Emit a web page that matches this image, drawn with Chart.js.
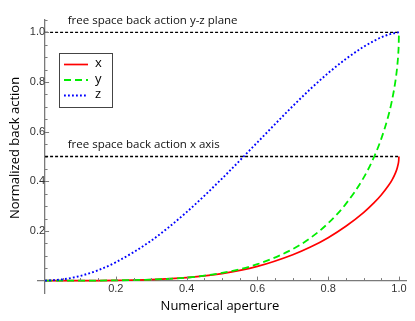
<!DOCTYPE html>
<html>
<head>
<meta charset="utf-8">
<script src="https://cdn.jsdelivr.net/npm/chart.js@4.4.1/dist/chart.umd.min.js"></script>
<style>
  html, body { margin: 0; padding: 0; background: #fff; }
  #wrap { width: 415px; height: 321px; position: relative; }
</style>
</head>
<body>
<div id="wrap"><canvas id="chart"></canvas></div>
<script>
// numerical aperture (x values shared by all three curves)
const aperture = [0, 0.05, 0.1, 0.15, 0.2, 0.3, 0.4, 0.5, 0.6, 0.7, 0.75, 0.8, 0.85, 0.9, 0.93, 0.95, 0.97, 0.98, 0.99, 0.995, 0.998, 0.9995, 1];
const backX = [0, 0, 0, 0.0002, 0.001, 0.004, 0.012, 0.028, 0.057, 0.104, 0.135, 0.173, 0.219, 0.274, 0.314, 0.345, 0.382, 0.404, 0.433, 0.453, 0.470, 0.485, 0.5];
const backY = [0, 0, 0, 0.0002, 0.001, 0.004, 0.012, 0.031, 0.066, 0.127, 0.172, 0.231, 0.309, 0.414, 0.499, 0.571, 0.663, 0.723, 0.803, 0.860, 0.911, 0.956, 1];
const backZ = [0, 0.005, 0.019, 0.042, 0.074, 0.161, 0.276, 0.411, 0.557, 0.703, 0.772, 0.836, 0.893, 0.942, 0.966, 0.980, 0.991, 0.995, 0.998, 0.999, 1, 1, 1];

const seriesNames = ['x', 'y', 'z'];
const refLevels = [1, 0.5];
const refSpan = [0, 1];
const refLabels = ['free space back action y-z plane', 'free space back action x axis'];

const xTicks = [0.2, 0.4, 0.6, 0.8, 1.0];
const yTicks = [0.2, 0.4, 0.6, 0.8, 1.0];
const xTitle = 'Numerical aperture';
const yTitle = 'Normalized back action';

const axisColor = '#7a7a7a';
const labelFont = '"Open Sans", sans-serif';

function pts(vals) {
  return aperture.map((a, i) => ({ x: a, y: vals[i] }));
}

const curveStyles = [
  { color: '#ff0000', dash: [], width: 1.7 },
  { color: '#00ee00', dash: [7, 4], width: 1.8 },
  { color: '#0000ff', dash: [1.8, 2.2], width: 1.9 }
];

const datasets = [backX, backY, backZ].map((vals, i) => ({
  label: seriesNames[i],
  data: pts(vals),
  borderColor: curveStyles[i].color,
  borderDash: curveStyles[i].dash,
  borderWidth: curveStyles[i].width,
  pointRadius: 0,
  fill: false,
  cubicInterpolationMode: 'monotone',
  order: 3 - i
}));

refLevels.forEach(level => {
  datasets.push({
    label: 'ref',
    isRef: true,
    data: refSpan.map(a => ({ x: a, y: level })),
    borderColor: '#000',
    borderDash: [3, 2],
    borderWidth: 1.4,
    pointRadius: 0,
    fill: false,
    order: 5
  });
});

// ticks, titles, annotations and the boxed legend
const overlay = {
  id: 'overlay',
  afterDatasetsDraw(chart) {
    const { ctx, chartArea, scales: { x, y } } = chart;
    const x0 = x.getPixelForValue(0), y0 = y.getPixelForValue(0);
    ctx.save();

    // tick marks, pointing into the plot
    ctx.strokeStyle = axisColor;
    ctx.lineWidth = 1;
    for (let i = 1; i <= 21; i++) {
      const len = i % 4 === 0 ? 4 : 2.5;
      const py = Math.round(y.getPixelForValue(i * 0.05)) + 0.5;
      ctx.beginPath(); ctx.moveTo(x0, py); ctx.lineTo(x0 + len, py); ctx.stroke();
      if (i <= 20) {
        const px = Math.round(x.getPixelForValue(i * 0.05)) + 0.5;
        ctx.beginPath(); ctx.moveTo(px, y0); ctx.lineTo(px, y0 - len); ctx.stroke();
      }
    }

    // annotations above the dashed lines
    ctx.fillStyle = '#111';
    ctx.font = '11.5px ' + labelFont;
    ctx.textAlign = 'left';
    ctx.textBaseline = 'middle';
    refLevels.forEach((level, i) => {
      ctx.fillText(refLabels[i], x.getPixelForValue(0.064), y.getPixelForValue(level) - 11.5);
    });

    // axis titles
    ctx.fillStyle = '#000';
    ctx.font = '13px ' + labelFont;
    ctx.textAlign = 'center';
    ctx.fillText(xTitle, 220, 306);
    ctx.save();
    ctx.translate(15, 148);
    ctx.rotate(-Math.PI / 2);
    ctx.fillText(yTitle, 0, 0);
    ctx.restore();

    // legend box
    const lx = chartArea.left + 21, ly = chartArea.top + 33;
    ctx.fillStyle = '#fff';
    ctx.fillRect(lx, ly, 53, 54);
    ctx.strokeStyle = '#444';
    ctx.lineWidth = 1;
    ctx.strokeRect(lx + 0.5, ly + 0.5, 53, 54);
    ctx.font = '13px ' + labelFont;
    ctx.textAlign = 'left';
    chart.data.datasets.filter(d => !d.isRef).forEach((d, i) => {
      const ry = ly + 11.5 + i * 15.5;
      ctx.strokeStyle = d.borderColor;
      ctx.lineWidth = d.borderWidth;
      ctx.setLineDash(d.borderDash);
      ctx.beginPath(); ctx.moveTo(lx + 5, ry); ctx.lineTo(lx + 29, ry); ctx.stroke();
      ctx.setLineDash([]);
      ctx.fillStyle = '#000';
      ctx.fillText(d.label, lx + 36, ry - 1);
    });
    ctx.restore();
  }
};

const ctx = document.querySelector('#chart').getContext('2d');
new Chart(ctx, {
  type: 'line',
  data: { datasets },
  options: {
    responsive: true,
    maintainAspectRatio: false,
    animation: false,
    layout: { padding: { left: 38, right: 9, top: 20, bottom: 28 } },
    plugins: {
      legend: { display: false },
      tooltip: { enabled: false }
    },
    scales: {
      x: {
        type: 'linear',
        min: -0.02,
        max: 1.02,
        position: { y: 0 },
        afterBuildTicks: s => { s.ticks = xTicks.map(v => ({ value: v })); },
        grid: { drawOnChartArea: false, drawTicks: false },
        border: { color: axisColor, width: 1.3 },
        ticks: {
          color: '#333',
          padding: 2,
          maxRotation: 0,
          font: { family: 'Liberation Sans', size: 11 },
          callback: v => v.toFixed(1)
        }
      },
      y: {
        type: 'linear',
        min: -0.05,
        max: 1.05,
        position: { x: 0 },
        afterBuildTicks: s => { s.ticks = yTicks.map(v => ({ value: v })); },
        grid: { drawOnChartArea: false, drawTicks: false },
        border: { color: axisColor, width: 1.3 },
        ticks: {
          color: '#333',
          padding: 1,
          font: { family: 'Liberation Sans', size: 11 },
          callback: v => v.toFixed(1)
        }
      }
    }
  },
  plugins: [overlay]
});
</script>
</body>
</html>
